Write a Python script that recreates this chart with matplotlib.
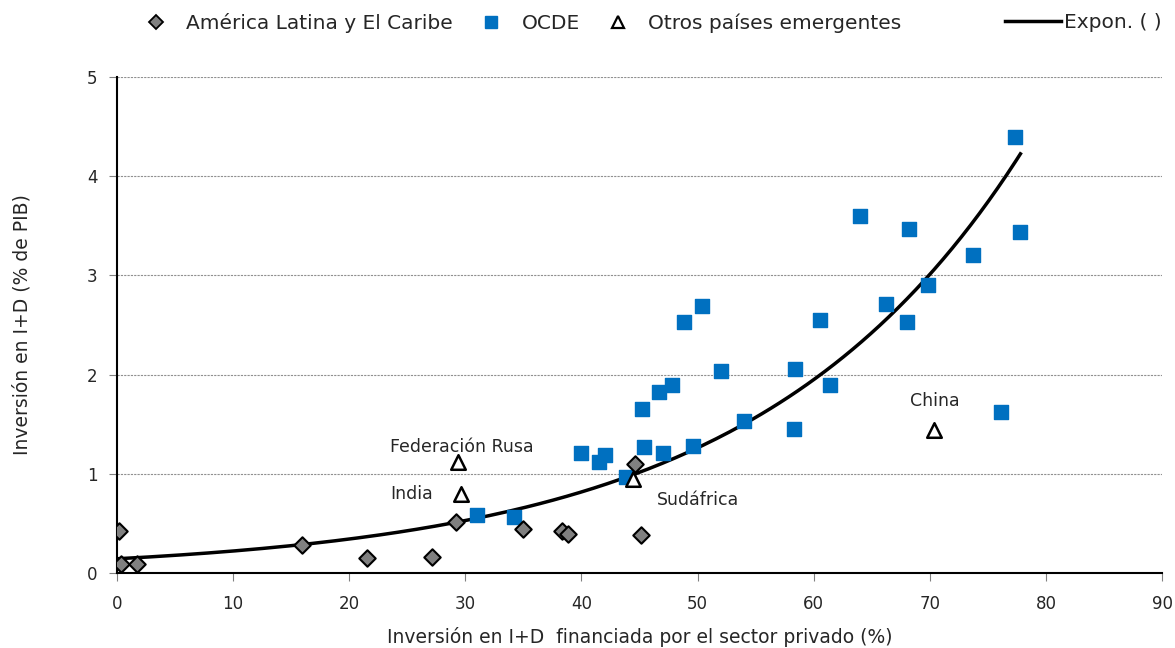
import numpy as np
import matplotlib.pyplot as plt
from matplotlib.lines import Line2D

# America Latina y El Caribe
lac_x = [0.2, 0.3, 1.7, 15.9, 21.5, 27.1, 29.2, 35.0, 38.3, 38.8, 44.6, 45.1]
lac_y = [0.42, 0.09, 0.09, 0.28, 0.15, 0.16, 0.51, 0.44, 0.42, 0.39, 1.10, 0.38]

# OCDE
oecd_x = [31.0, 34.2, 40.0, 41.5, 42.0, 43.8, 45.4, 45.2, 46.7, 47.8, 48.8, 50.4,
          47.0, 49.6, 52.0, 54.0, 58.3, 58.4, 60.5, 61.4, 64.0, 68.2, 66.2, 68.0,
          69.8, 73.7, 77.3, 77.8, 76.1]
oecd_y = [0.58, 0.56, 1.21, 1.12, 1.19, 0.97, 1.27, 1.65, 1.82, 1.90, 2.53, 2.69,
          1.21, 1.28, 2.04, 1.53, 1.45, 2.06, 2.55, 1.90, 3.60, 3.47, 2.71, 2.53,
          2.90, 3.21, 4.40, 3.44, 1.62]

# Otros paises emergentes
emg_names = ["Federación Rusa", "India", "Sudáfrica", "China"]
emg_x = [29.4, 29.6, 44.4, 70.4]
emg_y = [1.12, 0.80, 0.95, 1.44]

# where the country names sit (data coords, centred)
name_pos = {"Federación Rusa": (29.7, 1.27), "India": (25.4, 0.80),
            "Sudáfrica": (50.0, 0.74), "China": (70.4, 1.73)}

# exponential trendline fitted on all points
all_x = np.array(lac_x + oecd_x + emg_x)
all_y = np.array(lac_y + oecd_y + emg_y)
b, ln_a = np.polyfit(all_x, np.log(all_y), 1)
tx = np.linspace(0, all_x.max(), 200)
ty = np.exp(ln_a) * np.exp(b * tx)

plt.rcParams['font.family'] = 'DejaVu Sans'
txt = "#262626"
fig = plt.figure(figsize=(11.75, 6.48), dpi=100)
ax = fig.add_axes([0.0996, 0.1157, 0.8894, 0.7654])

ax.plot(tx, ty, color="black", lw=2.5, zorder=2)
ax.scatter(oecd_x, oecd_y, marker="s", s=110, color="#0070C0", zorder=3)
ax.scatter(lac_x, lac_y, marker="D", s=70, facecolor="#808080",
           edgecolor="black", linewidth=1.5, zorder=4)
ax.scatter(emg_x, emg_y, marker="^", s=110, facecolor="white",
           edgecolor="black", linewidth=1.8, zorder=5)

for n in emg_names:
    px, py = name_pos[n]
    ax.text(px, py, n, ha="center", va="center", fontsize=12.5, color=txt)

ax.set_xlim(0, 90)
ax.set_ylim(0, 5)
ax.set_xticks(range(0, 91, 10))
ax.set_yticks(range(0, 6))
ax.yaxis.grid(True, linestyle=(0, (2, 1)), color="#909090", lw=0.8)
ax.set_axisbelow(True)
for s in ["top", "right"]:
    ax.spines[s].set_visible(False)
ax.spines["left"].set_linewidth(1.5)
ax.spines["bottom"].set_linewidth(1.5)
ax.tick_params(axis="both", labelsize=12, colors=txt, length=6,
               width=0.8, color="#808080", direction="out", pad=8)
ax.tick_params(axis="x", pad=10)

ax.set_xlabel("Inversión en I+D  financiada por el sector privado (%)",
              fontsize=13.5, color=txt, labelpad=10)
ax.set_ylabel("Inversión en I+D (% de PIB)", fontsize=13.5, color=txt,
              labelpad=40)

handles = [
    Line2D([], [], ls="none", marker="D", ms=7, mfc="#808080", mec="black", mew=1.3),
    Line2D([], [], ls="none", marker="s", ms=9, mfc="#0070C0", mec="#0070C0"),
    Line2D([], [], ls="none", marker="^", ms=9, mfc="white", mec="black", mew=1.6),
]
labels = ["América Latina y El Caribe", "OCDE", "Otros países emergentes"]
leg1 = fig.legend(handles, labels, loc="center left", bbox_to_anchor=(0.109, 0.965),
                  ncol=3, frameon=False, fontsize=14.5, handlelength=1.0,
                  handletextpad=1.0, columnspacing=1.4, labelcolor=txt)
leg2 = fig.legend([Line2D([], [], color="black", lw=2.5)], ["Expon. ( )"],
                  loc="center left", bbox_to_anchor=(0.8395, 0.965), frameon=False,
                  fontsize=14.5, handlelength=2.8, handletextpad=0.15,
                  labelcolor=txt)

fig.savefig("out.png", dpi=100)
